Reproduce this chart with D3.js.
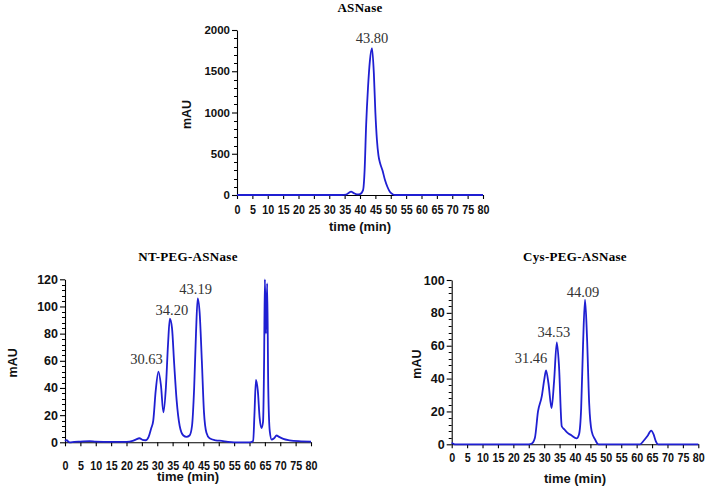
<!DOCTYPE html>
<html>
<head>
<meta charset="utf-8">
<script src="https://cdn.jsdelivr.net/npm/d3@7"></script>
<style>
  body { margin: 0; background: #fff; }
  svg { display: block; }
</style>
</head>
<body>
<div id="chart"></div>
<script>
// ── data ─────────────────────────────────────────────
const asnTime = [0, 10, 20, 30, 34, 35.5, 36.3, 37.1, 38, 39, 40, 41, 41.5, 42, 42.6, 43.2, 43.9, 44.5, 45, 45.5, 46, 46.5, 47.3, 48.1, 48.9, 49.7, 50.5, 51.3, 55, 60, 70, 80];
const asnMAU  = [0, 0, 0, 0, 0, 5, 25, 40, 22, 8, 12, 60, 300, 850, 1300, 1620, 1780, 1480, 1000, 670, 480, 390, 300, 185, 100, 40, 12, 0, 0, 0, 0, 0];

const ntTime = [0, 0.5, 1.5, 3, 5, 8, 10, 15, 20, 22, 23, 24.2, 25.2, 26.2, 27.2, 28, 28.7, 29.5, 30.4, 31.2, 32, 32.8, 33.5, 34.1, 34.8, 35.5, 36.3, 37.3, 38.5, 39.5, 40.5, 41.3, 42, 42.6, 43.15, 43.8, 44.5, 45.2, 46, 47, 49, 51, 53, 55, 58, 60, 61.2, 61.6, 62.1, 62.7, 63.3, 63.9, 64.4, 64.75, 65.0, 65.35, 65.75, 66.1, 66.6, 67.2, 68, 68.8, 69.6, 71, 73, 76, 80];
const ntMAU  = [1, 1.5, 0, 0.3, 0.5, 0.8, 0.5, 0.3, 0.3, 1, 2, 3, 1.8, 1.5, 4, 10, 16, 38, 52, 42, 22, 40, 72, 91, 84, 58, 31, 12, 5, 4, 5, 12, 40, 80, 106, 95, 60, 22, 7, 3, 1.5, 1, 0.3, 0, 0, 0, 1, 20, 46, 38, 18, 10.5, 15, 60, 120, 80, 117, 40, 8, 2, 3, 5, 4, 2.5, 1.5, 0.8, 0.5];

const cysTime = [0, 0.5, 1, 5, 10, 15, 20, 25, 26, 27, 28, 29.2, 30, 30.6, 31.4, 32.4, 33.2, 34.1, 34.8, 35.7, 36.6, 37.6, 38.8, 40.5, 41.3, 42, 42.6, 43.25, 43.9, 44.6, 45.4, 46.5, 47.6, 50, 55, 60, 61.1, 62.2, 63.5, 64.7, 65.5, 66.2, 67, 70, 75, 80];
const cysMAU  = [1, 0.3, 0, 0, 0, 0, 0, 0, 0.5, 4, 20, 29, 39, 45, 37, 22, 38, 62, 48, 11, 9, 7, 5.5, 3.6, 6, 22, 60, 88, 65, 25, 8, 3, 0, 0, 0, 0, 0, 2, 5, 8.3, 6, 2, 0, 0, 0, 0];

const xTicks = d3.range(0, 81, 5);

const asnPeaks = [{ t: 43.9, label: "43.80" }];
const ntPeaks  = [{ t: 30.4, label: "30.63" }, { t: 34.1, label: "34.20" }, { t: 43.15, label: "43.19" }];
const cysPeaks = [{ t: 30.6, label: "31.46" }, { t: 34.1, label: "34.53" }, { t: 43.25, label: "44.09" }];

// ── layout ───────────────────────────────────────────
const panels = [
  { title: "ASNase", time: asnTime, mau: asnMAU, peaks: asnPeaks,
    yMax: 2000, yStep: 500, yMinor: 100, yFont: 11.5,
    left: 237, right: 483, top: 30, bottom: 195,
    titleY: 12, tickPad: 6, xLabelY: 231, yLabelX: 187,
    peakDx: [0], peakDy: [10] },
  { title: "NT-PEG-ASNase", time: ntTime, mau: ntMAU, peaks: ntPeaks,
    yMax: 120, yStep: 20, yMinor: 4, yFont: 12.5,
    left: 65, right: 311, top: 279.3, bottom: 442.3,
    titleY: 261, tickPad: 15, xLabelY: 481, yLabelX: 13,
    peakDx: [-12, 2, -2], peakDy: [13, 9, 9] },
  { title: "Cys-PEG-ASNase", time: cysTime, mau: cysMAU, peaks: cysPeaks,
    yMax: 100, yStep: 20, yMinor: 4, yFont: 12.5,
    left: 451.7, right: 698.3, top: 280, bottom: 444.3,
    titleY: 261, tickPad: 5, xLabelY: 483, yLabelX: 417,
    peakDx: [-15, -3, -2], peakDy: [12, 11, 8] }
];

const W = 708, H = 488;
const lineColor = "#1f1fd2";

const svg = d3.select("#chart").append("svg")
  .attr("width", W).attr("height", H)
  .style("background", "#fff");

panels.forEach(p => {
  const g = svg.append("g");

  const x = d3.scaleLinear().domain([0, 80]).range([p.left, p.right]);
  const y = d3.scaleLinear().domain([0, p.yMax]).range([p.bottom, p.top]);
  const cx = (p.left + p.right) / 2;

  // title
  g.append("text")
    .attr("x", cx).attr("y", p.titleY)
    .attr("text-anchor", "middle")
    .style("font-family", "'Liberation Serif', 'Times New Roman', serif")
    .style("font-weight", "bold")
    .style("font-size", "13px")
    .style("letter-spacing", "0.3px")
    .text(p.title);

  // x axis
  const xa = g.append("g")
    .attr("transform", `translate(0,${p.bottom})`)
    .call(d3.axisBottom(x).tickValues(xTicks).tickFormat(d3.format("d"))
      .tickSize(4).tickPadding(p.tickPad).tickSizeOuter(0));
  xa.selectAll("text")
    .attr("transform", "scale(0.86,1)")
    .style("font-family", "'Liberation Sans', Arial, sans-serif")
    .style("font-weight", "bold")
    .style("font-size", "12.5px")
    .attr("fill", "#111");

  // y axis
  const ya = g.append("g")
    .attr("transform", `translate(${p.left},0)`)
    .call(d3.axisLeft(y).tickValues(d3.range(0, p.yMax + 1, p.yStep))
      .tickFormat(d3.format("d"))
      .tickSize(5).tickPadding(2).tickSizeOuter(0));
  ya.selectAll("text")
    .style("font-family", "'Liberation Sans', Arial, sans-serif")
    .style("font-weight", "bold")
    .style("font-size", p.yFont + "px")
    .attr("fill", "#111");
  g.selectAll(".domain, .tick line").attr("stroke", "#000").attr("stroke-width", 1.1);

  // y axis minor ticks
  const minor = d3.range(0, p.yMax + 1e-6, p.yMinor).filter(v => v % p.yStep !== 0);
  g.append("g").selectAll("line")
    .data(minor)
    .join("line")
      .attr("x1", p.left - 3).attr("x2", p.left)
      .attr("y1", d => Math.round(y(d)) + 0.5).attr("y2", d => Math.round(y(d)) + 0.5)
      .attr("stroke", "#000").attr("stroke-width", 1);

  // axis titles
  g.append("text")
    .attr("x", cx).attr("y", p.xLabelY)
    .attr("text-anchor", "middle")
    .style("font-family", "'Liberation Sans', Arial, sans-serif")
    .style("font-weight", "bold")
    .style("font-size", "13px")
    .attr("fill", "#111")
    .text("time (min)");

  g.append("text")
    .attr("transform", `translate(${p.yLabelX},${(p.top + p.bottom) / 2 + 2}) rotate(-90)`)
    .attr("text-anchor", "middle")
    .attr("dy", "0.35em")
    .style("font-family", "'Liberation Sans', Arial, sans-serif")
    .style("font-weight", "bold")
    .style("font-size", "12.5px")
    .attr("fill", "#111")
    .text("mAU");

  // trace
  const pts = p.time.map((t, i) => [t, p.mau[i]]);
  const line = d3.line()
    .x(d => x(d[0]))
    .y(d => y(d[1]))
    .curve(d3.curveMonotoneX);

  g.append("path")
    .datum(pts)
    .attr("d", line)
    .attr("fill", "none")
    .attr("stroke", lineColor)
    .attr("stroke-width", 1.8)
    .attr("stroke-linejoin", "round");

  // peak labels
  p.peaks.forEach((pk, i) => {
    const idx = p.time.indexOf(pk.t);
    const v = p.mau[idx];
    g.append("text")
      .attr("x", x(pk.t) + p.peakDx[i])
      .attr("y", y(v) - p.peakDy[i])
      .attr("dy", "0.35em")
      .attr("text-anchor", "middle")
      .style("font-family", "'Liberation Serif', 'Times New Roman', serif")
      .style("font-size", "14.5px")
      .attr("fill", "#333")
      .text(pk.label);
  });
});
</script>
</body>
</html>
